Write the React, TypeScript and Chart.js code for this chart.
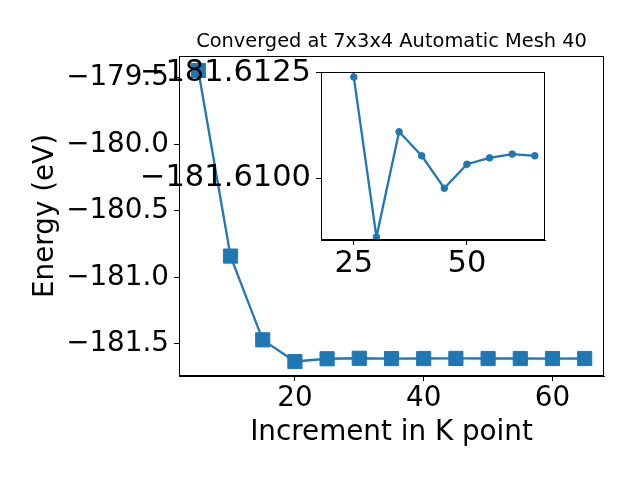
import React, { useEffect, useRef } from "react";
import { Chart, registerables } from "chart.js";

Chart.register(...registerables);

// ---- data ----
const kPoints = [5, 10, 15, 20, 25, 30, 35, 40, 45, 50, 55, 60, 65];
const energies = [
  -179.444, -180.84, -181.47, -181.633, -181.6124, -181.6086, -181.6111,
  -181.61053, -181.60976, -181.61033, -181.61048, -181.61057, -181.61053,
];
const insetStartK = 20;

const mainXTicks = [20, 40, 60];
const mainYTicks = [-181.5, -181.0, -180.5, -180.0, -179.5];
const insetXTicks = [25, 50];
const insetYTicks = [-181.6125, -181.61];

const titleText = "Converged at 7x3x4 Automatic Mesh 40";
const xLabel = "Increment in K point";
const yLabel = "Energy (eV)";

const BLUE = "#1f77b4";
const FONT = "DejaVu Sans";
const BIG = 27.8;
const INSET_FONT = 30.5;

const fmt = (v: number, d: number) => v.toFixed(d).replace("-", "\u2212");

const framePlugin = (withTitle: boolean) => ({
  id: "frame" + (withTitle ? "T" : ""),
  beforeDraw(chart: any) {
    const { ctx, chartArea: a } = chart;
    ctx.save();
    ctx.fillStyle = "white";
    ctx.fillRect(a.left, a.top, a.right - a.left, a.bottom - a.top);
    ctx.restore();
  },
  afterDraw(chart: any) {
    const { ctx, chartArea: a } = chart;
    ctx.save();
    ctx.strokeStyle = "black";
    ctx.lineWidth = 1;
    const l = Math.round(a.left) + 0.5;
    const t = Math.round(a.top) + 0.5;
    const r = Math.round(a.right) - 0.5;
    const b = Math.round(a.bottom) - 0.5;
    ctx.strokeRect(l, t, r - l, b - t);
    if (withTitle) {
      ctx.fillStyle = "black";
      ctx.font = `19.4px "${FONT}"`;
      ctx.textAlign = "center";
      ctx.textBaseline = "alphabetic";
      ctx.fillText(titleText, (a.left + a.right) / 2, a.top - 9);
    }
    ctx.restore();
  },
});

const tickGrid = {
  drawOnChartArea: false,
  drawTicks: true,
  tickLength: 5,
  tickColor: "black",
  tickWidth: 1,
};

export default function App() {
  const mainRef = useRef<HTMLCanvasElement>(null);
  const insetRef = useRef<HTMLCanvasElement>(null);

  useEffect(() => {
    Chart.defaults.font.family = FONT;
    Chart.defaults.color = "black";

    const mainData = kPoints.map((k, i) => ({ x: k, y: energies[i] }));
    const insetData = kPoints
      .map((k, i) => ({ x: k, y: energies[i] }))
      .filter((p) => p.x >= insetStartK);

    const main = new Chart(mainRef.current!, {
      type: "line",
      data: {
        datasets: [
          {
            data: mainData,
            borderColor: BLUE,
            backgroundColor: BLUE,
            borderWidth: 2.3,
            pointStyle: "rect",
            pointRadius: 10,
            pointBorderWidth: 1,
            pointBackgroundColor: BLUE,
            pointBorderColor: BLUE,
            tension: 0,
            clip: 0,
          } as any,
        ],
      },
      options: {
        animation: false,
        responsive: false,
        events: [],
        layout: { padding: { left: 0, right: 36, top: 56, bottom: 0 } },
        plugins: { legend: { display: false }, tooltip: { enabled: false } },
        scales: {
          x: {
            type: "linear",
            min: 2,
            max: 68,
            grid: tickGrid,
            border: { display: true, color: "black", width: 1 },
            afterBuildTicks: (s: any) => {
              s.ticks = mainXTicks.map((v) => ({ value: v }));
            },
            afterFit: (s: any) => {
              s.height = 104;
            },
            ticks: {
              font: { size: BIG },
              color: "black",
              padding: 1,
              maxRotation: 0,
              autoSkip: false,
              callback: (v: any) => fmt(Number(v), 0),
            },
            title: {
              display: true,
              text: xLabel,
              font: { size: BIG },
              color: "black",
              padding: { top: 0, bottom: 31 },
            },
          },
          y: {
            type: "linear",
            min: -181.742,
            max: -179.335,
            grid: tickGrid,
            border: { display: true, color: "black", width: 1 },
            afterBuildTicks: (s: any) => {
              s.ticks = mainYTicks.map((v) => ({ value: v }));
            },
            afterFit: (s: any) => {
              s.width = 179;
            },
            ticks: {
              font: { size: BIG },
              color: "black",
              padding: 5,
              autoSkip: false,
              callback: (v: any) => fmt(Number(v), 1),
            },
            title: {
              display: true,
              text: yLabel,
              font: { size: BIG },
              color: "black",
              padding: { top: 29, bottom: 0 },
            },
          },
        },
      },
      plugins: [framePlugin(true)],
    });

    const inset = new Chart(insetRef.current!, {
      type: "line",
      data: {
        datasets: [
          {
            data: insetData,
            borderColor: BLUE,
            backgroundColor: BLUE,
            borderWidth: 2.3,
            pointStyle: "circle",
            pointRadius: 3.3,
            pointBorderWidth: 1,
            pointBackgroundColor: BLUE,
            pointBorderColor: BLUE,
            tension: 0,
            clip: 0,
          } as any,
        ],
      },
      options: {
        animation: false,
        responsive: false,
        events: [],
        layout: { padding: { left: 0, right: 95, top: 72, bottom: 0 } },
        plugins: { legend: { display: false }, tooltip: { enabled: false } },
        scales: {
          x: {
            type: "linear",
            min: 17.75,
            max: 67.25,
            grid: tickGrid,
            border: { display: true, color: "black", width: 1 },
            afterBuildTicks: (s: any) => {
              s.ticks = insetXTicks.map((v) => ({ value: v }));
            },
            afterFit: (s: any) => {
              s.height = 240;
            },
            ticks: {
              font: { size: INSET_FONT },
              color: "black",
              padding: 1,
              maxRotation: 0,
              autoSkip: false,
              callback: (v: any) => fmt(Number(v), 0),
            },
          },
          y: {
            type: "linear",
            reverse: true,
            min: -181.61252,
            max: -181.60853,
            grid: tickGrid,
            border: { display: true, color: "black", width: 1 },
            afterBuildTicks: (s: any) => {
              s.ticks = insetYTicks.map((v) => ({ value: v }));
            },
            afterFit: (s: any) => {
              s.width = 321;
            },
            ticks: {
              font: { size: INSET_FONT },
              color: "black",
              padding: 5,
              autoSkip: false,
              callback: (v: any) => fmt(Number(v), 4),
            },
          },
        },
      },
      plugins: [framePlugin(false)],
    });

    return () => {
      main.destroy();
      inset.destroy();
    };
  }, []);

  return (
    <div
      style={{
        position: "fixed",
        left: 0,
        top: 0,
        width: 640,
        height: 480,
        background: "white",
      }}
    >
      <canvas
        ref={mainRef}
        width={640}
        height={480}
        style={{ position: "absolute", left: 0, top: 0 }}
      />
      <canvas
        ref={insetRef}
        width={640}
        height={480}
        style={{ position: "absolute", left: 0, top: 0 }}
      />
    </div>
  );
}
